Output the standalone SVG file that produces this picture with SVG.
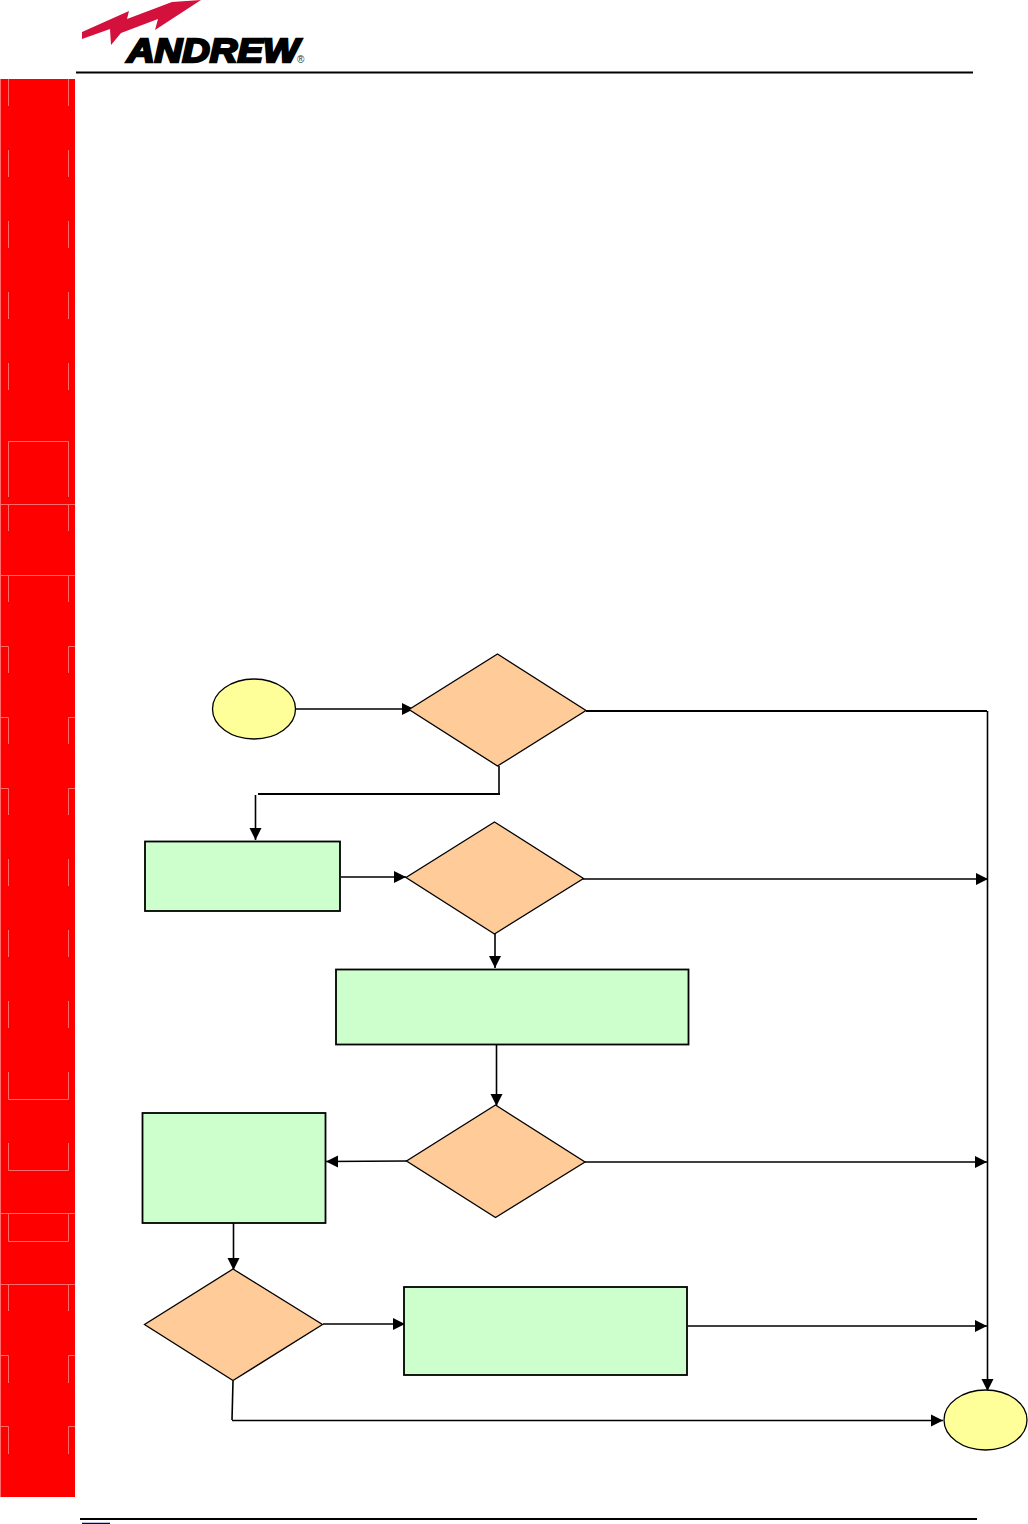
<svg xmlns="http://www.w3.org/2000/svg" width="1028" height="1524" viewBox="0 0 1028 1524">
<style>
.sl{stroke:#ff6a6a;stroke-width:1;fill:none}
.c{stroke:#000;stroke-width:1.6;fill:none}
.d{fill:#ffcc99;stroke:#000;stroke-width:1.3}
.p{fill:#ccffcc;stroke:#000;stroke-width:1.8}
.t{fill:#ffff99;stroke:#000;stroke-width:1.3}
</style>
<defs><marker id="a" markerUnits="userSpaceOnUse" markerWidth="13" markerHeight="13" refX="12" refY="6.500" orient="auto"><path d="M0,0.500L12,6.500L0,12.500Z" fill="#000"/></marker></defs>
<rect width="1028" height="1524" fill="#fff"/>
<g id="sidebar">
<rect x="0" y="79" width="75" height="1418" fill="#f00"/>
<path class="sl" d="M0.500,79V1497M8.500,79V106M68.500,79V106M8.500,150V177M68.500,150V177M8.500,221V248M68.500,221V248M8.500,292V319M68.500,292V319M8.500,363V390M68.500,363V390M8.500,497V441.500H68.500V497M0,504.500H75M8.500,504V531M68.500,504V531M0,575.500H75M8.500,575V602M68.500,575V602M0,646.500H8.500V673M75,646.500H68.500V673M0,717.500H8.500V744M75,717.500H68.500V744M0,788.500H8.500V815M75,788.500H68.500V815M8.500,859V886M68.500,859V886M8.500,930V957M68.500,930V957M8.500,1001V1028M68.500,1001V1028M8.500,1072V1099.500H68.500V1072M8.500,1143V1170.500H68.500V1143M0,1213.500H75M8.500,1213V1241.500H68.500V1213M0,1284.500H75M8.500,1284V1311M68.500,1284V1311M0,1355.500H8.500V1383M75,1355.500H68.500V1383M0,1426.500H8.500V1454M75,1426.500H68.500V1454"/>
</g>
<g id="logo">
<polygon points="82,32 129,11 127,19 172,2 201,0 155,30 158,19 121,33 111,45 110,29 82,39" fill="#d4103c"/>
<text x="127" y="61.500" font-family="'Liberation Sans',sans-serif" font-size="33" font-weight="bold" font-style="italic" textLength="172" lengthAdjust="spacingAndGlyphs" fill="#000" stroke="#000" stroke-width="2.300">ANDREW</text>
<text x="297" y="63" font-family="'Liberation Sans',sans-serif" font-size="10" fill="#333">®</text>
</g>
<g id="rules">
<path d="M76,72.500H973" stroke="#000" stroke-width="2"/>
<path d="M80,1519H977" stroke="#000" stroke-width="2"/>
<path d="M82,1523.500H110" stroke="#00008b" stroke-width="1.500"/>
</g>
<g id="connectors">
<path class="c" d="M296,709H414" marker-end="url(#a)"/>
<path class="c" d="M499,766V794"/>
<path d="M258,794H500" stroke="#000" stroke-width="2" fill="none"/>
<path class="c" d="M255.500,795V840" marker-end="url(#a)"/>
<path class="c" d="M341,877H406" marker-end="url(#a)"/>
<path d="M586,711H987" stroke="#000" stroke-width="2" fill="none"/>
<path class="c" d="M987.500,711V1391" marker-end="url(#a)"/>
<path class="c" d="M583,879H988" marker-end="url(#a)"/>
<path class="c" d="M495,934V968" marker-end="url(#a)"/>
<path class="c" d="M496.500,1045V1106" marker-end="url(#a)"/>
<path class="c" d="M407,1161L326,1161.500" marker-end="url(#a)"/>
<path class="c" d="M585,1162H987" marker-end="url(#a)"/>
<path class="c" d="M233.500,1223V1270" marker-end="url(#a)"/>
<path class="c" d="M323,1324H405" marker-end="url(#a)"/>
<path class="c" d="M688,1326H987" marker-end="url(#a)"/>
<path class="c" d="M233,1381L232,1420"/>
<path class="c" d="M232,1420.500H943" marker-end="url(#a)"/>
</g>
<g id="start"><ellipse class="t" cx="254" cy="709" rx="41.500" ry="30"/></g>
<g id="end"><ellipse class="t" cx="985.500" cy="1420" rx="41.500" ry="30"/></g>
<g id="decision1"><polygon class="d" points="497.500,654 586,710.500 497.500,766 409,709.500"/></g>
<g id="decision2"><polygon class="d" points="494.500,822 583.500,878.500 494.500,934 406,877.500"/></g>
<g id="decision3"><polygon class="d" points="495.500,1105 585,1162 495.500,1217.500 406.500,1161"/></g>
<g id="decision4"><polygon class="d" points="233,1269 322.500,1324.500 233,1380.500 144.500,1324.500"/></g>
<g id="process1"><rect class="p" x="145" y="841.500" width="195" height="69.500"/></g>
<g id="process2"><rect class="p" x="336" y="969.500" width="352.500" height="75"/></g>
<g id="process3"><rect class="p" x="142.500" y="1113" width="183" height="110"/></g>
<g id="process4"><rect class="p" x="404" y="1287" width="283" height="88"/></g>
</svg>
